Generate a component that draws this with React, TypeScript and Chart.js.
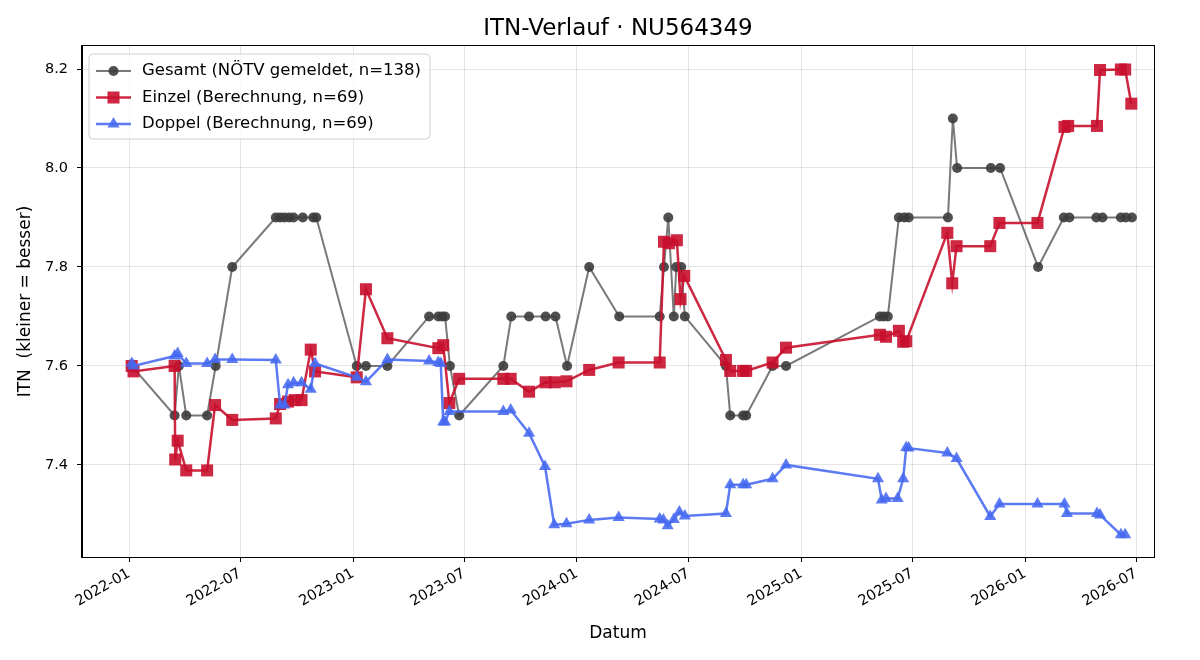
import React, { useEffect, useRef } from "react";
import { Chart, registerables } from "chart.js";

Chart.register(...registerables);

const TITLE = "ITN-Verlauf · NU564349";
const X_LABEL = "Datum";
const Y_LABEL = "ITN  (kleiner = besser)";
const FONT = "'DejaVu Sans', 'Liberation Sans', sans-serif";

const X_TICK_LABELS = [
  "2022-01", "2022-07", "2023-01", "2023-07", "2024-01",
  "2024-07", "2025-01", "2025-07", "2026-01", "2026-07",
];
const Y_TICKS = [7.4, 7.6, 7.8, 8.0, 8.2];
const X_MIN_DATE = "2021-10-16";
const X_MAX_DATE = "2026-07-30";
const Y_MIN = 7.214;
const Y_MAX = 8.2465;

const LEGEND_LABELS = [
  "Gesamt (NÖTV gemeldet, n=138)",
  "Einzel (Berechnung, n=69)",
  "Doppel (Berechnung, n=69)",
];

const GESAMT_DATES = [
  "2022-01-05", "2022-03-16", "2022-03-23", "2022-04-04", "2022-05-08", "2022-05-22",
  "2022-06-18", "2022-08-28", "2022-09-04", "2022-09-11", "2022-09-19", "2022-09-26",
  "2022-10-11", "2022-10-28", "2022-11-02", "2023-01-07", "2023-01-22", "2023-02-26",
  "2023-05-05", "2023-05-20", "2023-05-26", "2023-05-31", "2023-06-08", "2023-06-23",
  "2023-09-03", "2023-09-16", "2023-10-15", "2023-11-11", "2023-11-27", "2023-12-16",
  "2024-01-21", "2024-03-10", "2024-05-15", "2024-05-22", "2024-05-29", "2024-06-07",
  "2024-06-11", "2024-06-19", "2024-06-25", "2024-08-31", "2024-09-07", "2024-09-28",
  "2024-10-03", "2024-11-15", "2024-12-07", "2025-05-09", "2025-05-15", "2025-05-22",
  "2025-06-09", "2025-06-18", "2025-06-25", "2025-08-28", "2025-09-05", "2025-09-12",
  "2025-11-06", "2025-11-21", "2026-01-22", "2026-03-05", "2026-03-14", "2026-04-27",
  "2026-05-07", "2026-06-06", "2026-06-14", "2026-06-24",
];
const GESAMT_ITN = [
  7.6, 7.5, 7.6, 7.5, 7.5, 7.6,
  7.8, 7.9, 7.9, 7.9, 7.9, 7.9,
  7.9, 7.9, 7.9, 7.6, 7.6, 7.6,
  7.7, 7.7, 7.7, 7.7, 7.6, 7.5,
  7.6, 7.7, 7.7, 7.7, 7.7, 7.6,
  7.8, 7.7, 7.7, 7.8, 7.9, 7.7,
  7.8, 7.8, 7.7, 7.6, 7.5, 7.5,
  7.5, 7.6, 7.6, 7.7, 7.7, 7.7,
  7.9, 7.9, 7.9, 7.9, 8.1, 8.0,
  8.0, 8.0, 7.8, 7.9, 7.9, 7.9,
  7.9, 7.9, 7.9, 7.9,
];

const EINZEL_DATES = [
  "2022-01-05", "2022-01-08", "2022-03-16", "2022-03-17", "2022-03-21", "2022-04-04",
  "2022-05-08", "2022-05-21", "2022-06-18", "2022-08-28", "2022-09-04", "2022-09-17",
  "2022-09-28", "2022-10-09", "2022-10-24", "2022-10-31", "2023-01-07", "2023-01-22",
  "2023-02-26", "2023-05-20", "2023-05-28", "2023-06-07", "2023-06-23", "2023-09-03",
  "2023-09-15", "2023-10-15", "2023-11-11", "2023-11-26", "2023-12-15", "2024-01-21",
  "2024-03-09", "2024-05-15", "2024-05-22", "2024-05-30", "2024-06-12", "2024-06-18",
  "2024-06-24", "2024-08-31", "2024-09-07", "2024-09-28", "2024-10-03", "2024-11-15",
  "2024-12-07", "2025-05-09", "2025-05-19", "2025-06-09", "2025-06-16", "2025-06-21",
  "2025-08-27", "2025-09-04", "2025-09-11", "2025-11-05", "2025-11-20", "2026-01-21",
  "2026-03-06", "2026-03-12", "2026-04-28", "2026-05-03", "2026-06-06", "2026-06-13",
  "2026-06-23",
];
const EINZEL_ITN = [
  7.600, 7.589, 7.600, 7.411, 7.449, 7.389,
  7.389, 7.521, 7.491, 7.494, 7.523, 7.528,
  7.531, 7.531, 7.633, 7.589, 7.577, 7.755,
  7.656, 7.636, 7.642, 7.525, 7.574, 7.574,
  7.574, 7.548, 7.567, 7.567, 7.569, 7.592,
  7.607, 7.607, 7.851, 7.848, 7.854, 7.735,
  7.782, 7.612, 7.590, 7.590, 7.590, 7.607,
  7.637, 7.663, 7.659, 7.671, 7.649, 7.650,
  7.869, 7.767, 7.842, 7.842, 7.889, 7.889,
  8.083, 8.085, 8.085, 8.198, 8.199, 8.199,
  8.130,
];

const DOPPEL_DATES = [
  "2022-01-05", "2022-01-08", "2022-03-16", "2022-03-21", "2022-04-04", "2022-05-08",
  "2022-05-21", "2022-06-18", "2022-08-28", "2022-09-04", "2022-09-11", "2022-09-17",
  "2022-09-26", "2022-10-09", "2022-10-24", "2022-10-31", "2023-01-07", "2023-01-22",
  "2023-02-26", "2023-05-05", "2023-05-20", "2023-05-24", "2023-05-28", "2023-05-31",
  "2023-06-07", "2023-09-03", "2023-09-15", "2023-10-15", "2023-11-10", "2023-11-25",
  "2023-12-15", "2024-01-21", "2024-03-09", "2024-05-15", "2024-05-21", "2024-05-28",
  "2024-06-07", "2024-06-16", "2024-06-25", "2024-08-31", "2024-09-07", "2024-09-28",
  "2024-10-03", "2024-11-15", "2024-12-07", "2025-05-06", "2025-05-12", "2025-05-19",
  "2025-06-07", "2025-06-16", "2025-06-21", "2025-06-25", "2025-08-27", "2025-09-11",
  "2025-11-05", "2025-11-20", "2026-01-21", "2026-03-06", "2026-03-10", "2026-04-28",
  "2026-05-03", "2026-06-06", "2026-06-13",
];
const DOPPEL_ITN = [
  7.605, 7.600, 7.620, 7.625, 7.605, 7.605,
  7.613, 7.613, 7.612, 7.521, 7.521, 7.562,
  7.566, 7.566, 7.553, 7.605, 7.577, 7.568,
  7.613, 7.610, 7.607, 7.605, 7.487, 7.487,
  7.508, 7.508, 7.511, 7.464, 7.397, 7.279,
  7.281, 7.289, 7.294, 7.291, 7.289, 7.277,
  7.290, 7.305, 7.297, 7.302, 7.360, 7.360,
  7.360, 7.372, 7.400, 7.372, 7.329, 7.332,
  7.332, 7.372, 7.435, 7.434, 7.424, 7.413,
  7.296, 7.321, 7.321, 7.321, 7.302, 7.302,
  7.299, 7.259, 7.259,
];

const GESAMT_LINE = "rgba(64,64,64,0.7)";
const GESAMT_POINT = "rgba(60,60,60,0.9)";
const EINZEL_COLOR = "rgba(200,16,46,0.9)";
const DOPPEL_COLOR = "rgba(70,105,240,0.88)";

const DAY_MS = 86400000;
const EPOCH = Date.UTC(2022, 0, 1);
function toDay(s: string): number {
  const [y, m, d] = s.split("-").map(Number);
  return (Date.UTC(y, m - 1, d || 1) - EPOCH) / DAY_MS;
}
function toPoints(dates: string[], vals: number[]) {
  return dates.map((d, i) => ({ x: toDay(d), y: vals[i] }));
}

function drawMarker(ctx: CanvasRenderingContext2D, style: string, x: number, y: number, r: number) {
  ctx.beginPath();
  if (style === "circle") {
    ctx.arc(x, y, r, 0, Math.PI * 2);
  } else if (style === "rect") {
    const s = r * Math.SQRT1_2;
    ctx.rect(x - s, y - s, 2 * s, 2 * s);
  } else {
    ctx.moveTo(x, y - r);
    ctx.lineTo(x + r * Math.sin((2 * Math.PI) / 3), y - r * Math.cos((2 * Math.PI) / 3));
    ctx.lineTo(x + r * Math.sin((4 * Math.PI) / 3), y - r * Math.cos((4 * Math.PI) / 3));
    ctx.closePath();
  }
  ctx.fill();
}

const framePlugin = {
  id: "frameAndLegend",
  afterDraw(chart: any) {
    const { ctx, chartArea } = chart;
    const { left, top, right, bottom } = chartArea;
    ctx.save();
    ctx.strokeStyle = "#000";
    ctx.lineWidth = 1;
    ctx.strokeRect(Math.round(left) - 0.5, Math.round(top) - 0.5, Math.round(right - left) + 1, Math.round(bottom - top) + 1);

    // title, centred over the axes
    ctx.fillStyle = "#000";
    ctx.font = `23px ${FONT}`;
    ctx.textAlign = "center";
    ctx.textBaseline = "alphabetic";
    ctx.fillText(TITLE, (left + right) / 2, 35);

    // legend
    const bx = left + 7;
    const by = top + 8;
    const bw = 341;
    const bh = 85;
    const rad = 4;
    ctx.beginPath();
    ctx.moveTo(bx + rad, by);
    ctx.lineTo(bx + bw - rad, by);
    ctx.quadraticCurveTo(bx + bw, by, bx + bw, by + rad);
    ctx.lineTo(bx + bw, by + bh - rad);
    ctx.quadraticCurveTo(bx + bw, by + bh, bx + bw - rad, by + bh);
    ctx.lineTo(bx + rad, by + bh);
    ctx.quadraticCurveTo(bx, by + bh, bx, by + bh - rad);
    ctx.lineTo(bx, by + rad);
    ctx.quadraticCurveTo(bx, by, bx + rad, by);
    ctx.closePath();
    ctx.fillStyle = "rgba(255,255,255,0.8)";
    ctx.fill();
    ctx.strokeStyle = "#d0d0d0";
    ctx.stroke();

    const entries = [
      { line: GESAMT_LINE, point: GESAMT_POINT, lw: 2, style: "circle", r: 5 },
      { line: EINZEL_COLOR, point: EINZEL_COLOR, lw: 2.5, style: "rect", r: 8.5 },
      { line: DOPPEL_COLOR, point: DOPPEL_COLOR, lw: 2.5, style: "triangle", r: 7 },
    ];
    entries.forEach((e, i) => {
      const y = by + 17 + i * 26.5;
      ctx.strokeStyle = e.line;
      ctx.lineWidth = e.lw;
      ctx.beginPath();
      ctx.moveTo(bx + 7, y);
      ctx.lineTo(bx + 42, y);
      ctx.stroke();
      ctx.fillStyle = e.point;
      drawMarker(ctx, e.style, bx + 24.5, y, e.r);
      ctx.fillStyle = "#000";
      ctx.font = `16.5px ${FONT}`;
      ctx.textAlign = "left";
      ctx.textBaseline = "middle";
      ctx.fillText(LEGEND_LABELS[i], bx + 53, y);
    });
    ctx.restore();
  },
};

export default function App() {
  const canvasRef = useRef<HTMLCanvasElement | null>(null);

  useEffect(() => {
    if (!canvasRef.current) return;
    const xTickValues = X_TICK_LABELS.map((l) => toDay(l + "-01"));
    const chart = new Chart(canvasRef.current, {
      type: "line",
      data: {
        datasets: [
          {
            label: LEGEND_LABELS[0],
            data: toPoints(GESAMT_DATES, GESAMT_ITN),
            borderColor: GESAMT_LINE,
            backgroundColor: GESAMT_POINT,
            pointBackgroundColor: GESAMT_POINT,
            pointBorderColor: GESAMT_POINT,
            pointBorderWidth: 0,
            borderWidth: 2,
            pointStyle: "circle",
            pointRadius: 5,
            tension: 0,
            order: 2,
          },
          {
            label: LEGEND_LABELS[1],
            data: toPoints(EINZEL_DATES, EINZEL_ITN),
            borderColor: EINZEL_COLOR,
            backgroundColor: EINZEL_COLOR,
            pointBackgroundColor: EINZEL_COLOR,
            pointBorderColor: EINZEL_COLOR,
            pointBorderWidth: 0,
            borderWidth: 2.5,
            pointStyle: "rect",
            pointRadius: 8.5,
            tension: 0,
            order: 1,
          },
          {
            label: LEGEND_LABELS[2],
            data: toPoints(DOPPEL_DATES, DOPPEL_ITN),
            borderColor: DOPPEL_COLOR,
            backgroundColor: DOPPEL_COLOR,
            pointBackgroundColor: DOPPEL_COLOR,
            pointBorderColor: DOPPEL_COLOR,
            pointBorderWidth: 0,
            borderWidth: 2.5,
            pointStyle: "triangle",
            pointRadius: 7,
            tension: 0,
            order: 0,
          },
        ],
      },
      options: {
        responsive: false,
        animation: false,
        devicePixelRatio: 1,
        layout: { padding: { left: 0, right: 46, top: 46, bottom: 0 } },
        plugins: {
          legend: { display: false },
          tooltip: { enabled: false },
          title: { display: false },
        },
        scales: {
          x: {
            type: "linear",
            min: toDay(X_MIN_DATE),
            max: toDay(X_MAX_DATE),
            afterBuildTicks: (scale: any) => {
              scale.ticks = xTickValues.map((v) => ({ value: v }));
            },
            afterFit: (scale: any) => {
              scale.height = 103;
            },
            ticks: {
              autoSkip: false,
              minRotation: 30,
              maxRotation: 30,
              padding: 3,
              color: "#000",
              font: { family: FONT, size: 14.5 },
              callback: (value: any) => {
                const idx = xTickValues.indexOf(Number(value));
                return idx >= 0 ? X_TICK_LABELS[idx] : "";
              },
            },
            grid: {
              color: "rgba(0,0,0,0.1)",
              lineWidth: 1,
              tickColor: "#000",
              tickLength: 5,
              drawTicks: true,
            },
            border: { display: true, color: "#000", width: 1 },
            title: {
              display: true,
              text: X_LABEL,
              color: "#000",
              font: { family: FONT, size: 17, lineHeight: 1.2 },
              padding: { top: 0, bottom: 16 },
            },
          },
          y: {
            type: "linear",
            min: Y_MIN,
            max: Y_MAX,
            afterBuildTicks: (scale: any) => {
              scale.ticks = Y_TICKS.map((v) => ({ value: v }));
            },
            afterFit: (scale: any) => {
              scale.width = 82;
            },
            ticks: {
              padding: 9,
              color: "#000",
              font: { family: FONT, size: 14.5 },
              callback: (value: any) => Number(value).toFixed(1),
            },
            grid: {
              color: "rgba(0,0,0,0.1)",
              lineWidth: 1,
              tickColor: "#000",
              tickLength: 5,
              drawTicks: true,
            },
            border: { display: true, color: "#000", width: 1 },
            title: {
              display: true,
              text: Y_LABEL,
              color: "#000",
              font: { family: FONT, size: 17, lineHeight: 1.2 },
              padding: { top: 15, bottom: 0 },
            },
          },
        },
      },
      plugins: [framePlugin],
    } as any);
    return () => chart.destroy();
  }, []);

  return (
    <div style={{ position: "fixed", left: 0, top: 0, width: 1200, height: 660, background: "#fff" }}>
      <canvas ref={canvasRef} width={1200} height={660} style={{ display: "block", width: 1200, height: 660 }} />
    </div>
  );
}
